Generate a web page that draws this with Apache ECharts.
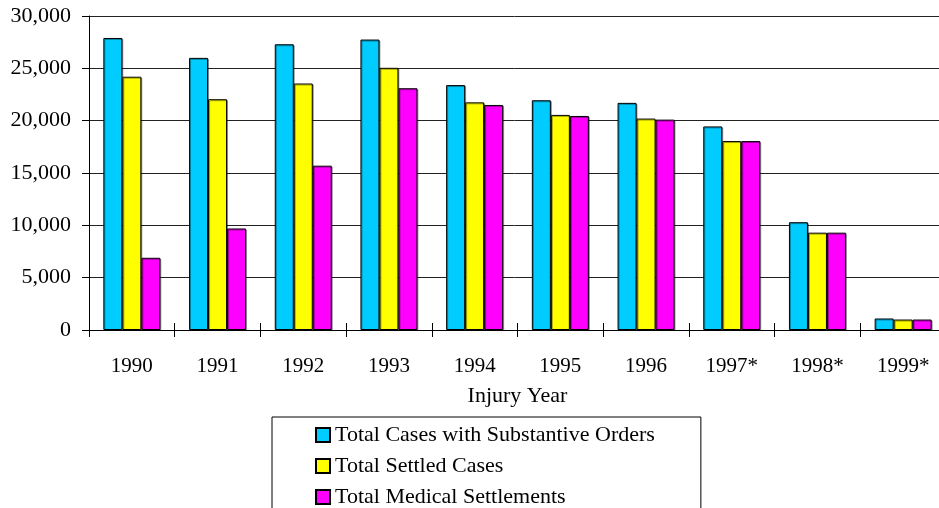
<!DOCTYPE html>
<html>
<head>
<meta charset="utf-8">
<script src="https://cdn.jsdelivr.net/npm/echarts@6/dist/echarts.min.js"></script>
<style>html,body{margin:0;padding:0;background:#fff}#c{width:939px;height:508px}</style>
</head>
<body>
<div id="c"></div>
<script>
var categories = ['1990','1991','1992','1993','1994','1995','1996','1997*','1998*','1999*'];
var substantiveOrders = [27900, 26000, 27300, 27750, 23400, 21950, 21700, 19450, 10300, 1100];
var settledCases = [24200, 22050, 23550, 25050, 21750, 20550, 20200, 18050, 9300, 1000];
var medicalSettlements = [6900, 9700, 15700, 23100, 21500, 20450, 20100, 18050, 9300, 1000];
var seriesNames = ['Total Cases with Substantive Orders', 'Total Settled Cases', 'Total Medical Settlements'];
var yTicks = [0, 5000, 10000, 15000, 20000, 25000, 30000];

var font = '"Liberation Serif", "Times New Roman", "DejaVu Serif", serif';
var chart = echarts.init(document.getElementById('c'), null, {renderer: 'canvas'});
function bar(name, data, color) {
  return {
    name: name, type: 'bar', data: data, barWidth: 19, barGap: '0%',
    itemStyle: {color: color, borderColor: '#000', borderWidth: 1,
      shadowColor: 'rgba(0,0,0,0.35)', shadowOffsetX: 1, shadowOffsetY: 1, shadowBlur: 0},
    emphasis: {disabled: true}
  };
}
chart.setOption({
  animation: false,
  textStyle: {fontFamily: font, color: '#000'},
  grid: {left: 89, top: 16, width: 857, bottom: 178, containLabel: false, outerBoundsMode: 'none'},
  legend: {
    orient: 'vertical', left: 272, top: 417, height: 200,
    padding: [7, 46, 30, 43], itemGap: 9, itemWidth: 14, itemHeight: 14,
    borderColor: '#000', borderWidth: 1, icon: 'rect',
    textStyle: {fontFamily: font, fontSize: 22, color: '#000'},
    data: seriesNames
  },
  xAxis: [{
    type: 'category', data: categories,
    axisLine: {lineStyle: {color: '#000', width: 1}},
    axisTick: {show: true, length: 7, lineStyle: {color: '#000'}},
    axisLabel: {fontFamily: font, fontSize: 21, color: '#000', margin: 26, interval: 0},
    name: 'Injury Year', nameLocation: 'middle', nameGap: 55,
    nameTextStyle: {fontFamily: font, fontSize: 22, color: '#000'}
  }, {
    type: 'category', data: categories, position: 'bottom',
    axisLine: {show: false},
    axisTick: {show: true, inside: true, length: 7, lineStyle: {color: '#000'}},
    axisLabel: {show: false}
  }],
  yAxis: {
    type: 'value', min: 0, max: 30000, interval: 5000,
    axisLine: {show: true, lineStyle: {color: '#000'}},
    axisTick: {show: true, length: 7, lineStyle: {color: '#000'}},
    splitLine: {show: true, lineStyle: {color: '#222', width: 1}},
    axisLabel: {fontFamily: font, fontSize: 22, color: '#000', margin: 18, padding: [4, 0, 0, 0],
      formatter: function (v) { return yTicks.indexOf(v) >= 0 ? v.toLocaleString('en-US') : ''; }}
  },
  series: [
    bar(seriesNames[0], substantiveOrders, '#00CCFF'),
    bar(seriesNames[1], settledCases, '#FFFF00'),
    bar(seriesNames[2], medicalSettlements, '#FF00FF')
  ]
});
</script>
</body>
</html>
